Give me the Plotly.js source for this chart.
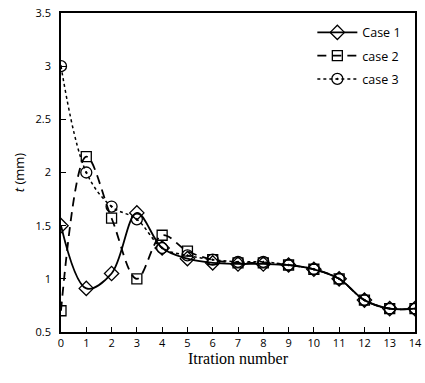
<!DOCTYPE html>
<html><head><meta charset="utf-8">
<script src="https://cdn.plot.ly/plotly-3.0.1.min.js"></script>
<style>body{margin:0;padding:0;background:#fff}#chart{width:425px;height:383px}</style>
</head><body><div id="chart"></div>
<script>
const iterations = [0,1,2,3,4,5,6,7,8,9,10,11,12,13,14];
const case1 = [1.5,0.91,1.05,1.62,1.29,1.19,1.15,1.14,1.14,1.13,1.09,1.0,0.8,0.72,0.72];
const case2 = [0.7,2.15,1.57,1.0,1.41,1.26,1.18,1.15,1.15,1.13,1.09,1.0,0.8,0.72,0.72];
const case3 = [3.0,2.0,1.68,1.56,1.29,1.22,1.18,1.16,1.16,1.13,1.09,1.0,0.8,0.72,0.72];
const names = ['Case 1','case 2','case 3'];

const traces = [
  {x:iterations,y:case1,name:names[0],legendgroup:'a',mode:'lines+markers',
   line:{color:'#000',width:1.8,shape:'spline',smoothing:1},
   marker:{symbol:'diamond-open',size:11,color:'#000',line:{width:1.3}}},
  {x:iterations,y:case2,name:names[1],legendgroup:'b',mode:'lines+markers',
   line:{color:'#000',width:1.8,dash:'9px,6px',shape:'spline',smoothing:1},
   marker:{symbol:'square-open',size:10,color:'#000',line:{width:1.3}}},
  {x:iterations,y:case3,name:names[2],legendgroup:'c',mode:'lines+markers',
   line:{color:'#000',width:1.5,dash:'dot',shape:'spline',smoothing:1},
   marker:{symbol:'circle-open-dot',size:11,color:'#000',line:{width:1.3}}}
];
const layout = {
  width:425,height:383,
  margin:{l:61,r:10,t:13,b:51},
  paper_bgcolor:'#fff',plot_bgcolor:'#fff',
  showlegend:true,
  legend:{x:0.71,y:0.985,xanchor:'left',yanchor:'top',bgcolor:'rgba(0,0,0,0)',
    traceorder:'grouped',tracegroupgap:4,
    font:{family:'Open Sans, sans-serif',size:12.5,color:'#000'},itemwidth:40},
  xaxis:{range:[0,14],dtick:1,tick0:0,showgrid:false,zeroline:false,
    showline:true,linecolor:'#000',linewidth:1.5,mirror:true,
    ticks:'inside',ticklen:5,tickcolor:'#000',
    tickfont:{family:'Open Sans, sans-serif',size:11,color:'#000'},
    title:{text:'Itration number',font:{family:'"Times New Roman", "Liberation Serif", serif',size:16,color:'#000'},standoff:4}},
  yaxis:{range:[0.5,3.5],dtick:0.5,tick0:0.5,showgrid:false,zeroline:false,
    showline:true,linecolor:'#000',linewidth:1.5,mirror:true,
    ticks:'inside',ticklen:5,tickcolor:'#000',ticklabelstandoff:6,
    tickfont:{family:'Open Sans, sans-serif',size:11,color:'#000'},
    title:{text:'<i>t</i> (mm)',font:{family:'Open Sans, sans-serif',size:13,color:'#000'},standoff:8}}
};
Plotly.newPlot('chart',traces,layout,{displayModeBar:false});
</script></body></html>
